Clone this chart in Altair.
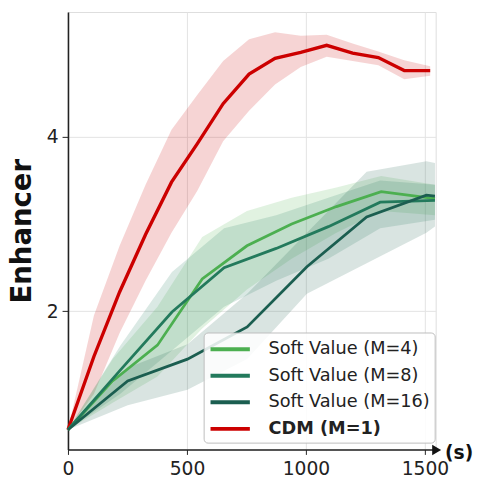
import altair as alt
import pandas as pd

# ---- data ----
series_names = ["Soft Value (M=4)", "Soft Value (M=8)", "Soft Value (M=16)", "CDM (M=1)"]
series_colors = ["#4caf50", "#237a5c", "#1b5e50", "#cc0000"]
band_names = ["CDM (M=1)", "Soft Value (M=4)", "Soft Value (M=8)", "Soft Value (M=16)"]
band_colors = ["#cc0000", "#4caf50", "#237a5c", "#1b5e50"]

cdm_x = [0, 109, 217, 326, 435, 543, 652, 761, 870, 978, 1087, 1196, 1304, 1413, 1522]
cdm_mean = [0.64, 1.48, 2.22, 2.88, 3.48, 3.92, 4.38, 4.72, 4.90, 4.97, 5.05, 4.96, 4.91, 4.76, 4.76]
cdm_lo = [0.64, 1.05, 1.75, 2.35, 2.90, 3.38, 3.95, 4.30, 4.60, 4.80, 4.92, 4.87, 4.82, 4.66, 4.70]
cdm_hi = [0.64, 1.95, 2.75, 3.45, 4.08, 4.48, 4.87, 5.12, 5.20, 5.16, 5.17, 5.07, 4.98, 4.88, 4.81]

sv4_x = [0, 188, 376, 564, 752, 940, 1128, 1316, 1542]
sv4_mean = [0.64, 1.20, 1.61, 2.37, 2.75, 3.00, 3.20, 3.37, 3.29]
sv4_lo = [0.64, 0.95, 1.25, 1.80, 2.25, 2.60, 2.90, 3.15, 3.10]
sv4_hi = [0.64, 1.45, 2.05, 2.85, 3.15, 3.30, 3.42, 3.55, 3.45]

sv8_x = [0, 219, 437, 656, 875, 1094, 1312, 1542]
sv8_mean = [0.64, 1.32, 1.99, 2.50, 2.72, 2.97, 3.25, 3.27]
sv8_lo = [0.64, 1.05, 1.55, 2.05, 2.35, 2.60, 2.95, 3.05]
sv8_hi = [0.64, 1.60, 2.45, 2.95, 3.10, 3.30, 3.50, 3.45]

sv16_x = [0, 251, 502, 753, 1004, 1255, 1506, 1542]
sv16_mean = [0.64, 1.20, 1.45, 1.82, 2.51, 3.08, 3.33, 3.32]
sv16_lo = [0.64, 0.92, 1.10, 1.45, 2.20, 2.55, 2.90, 2.97]
sv16_hi = [0.64, 1.35, 1.62, 2.20, 2.90, 3.60, 3.72, 3.70]

x_ticks = [0, 500, 1000, 1500]
y_ticks = [2, 4]

rows = []
for name, xs, ms, los, his in [
    ("CDM (M=1)", cdm_x, cdm_mean, cdm_lo, cdm_hi),
    ("Soft Value (M=4)", sv4_x, sv4_mean, sv4_lo, sv4_hi),
    ("Soft Value (M=8)", sv8_x, sv8_mean, sv8_lo, sv8_hi),
    ("Soft Value (M=16)", sv16_x, sv16_mean, sv16_lo, sv16_hi),
]:
    for t, m, lo, hi in zip(xs, ms, los, his):
        rows.append({"series": name, "band": name, "t": t, "mean": m, "lo": lo, "hi": hi})
df = pd.DataFrame(rows)

FONT = "DejaVu Sans"
xscale = alt.Scale(domain=[0, 1545], nice=False, zero=False)
yscale = alt.Scale(domain=[0.413, 5.432], nice=False, zero=False)

xaxis = alt.Axis(
    values=x_ticks, format="d", title="(s)", titleX=383, titleY=3, titleAngle=0,
    titleAlign="left", titleBaseline="middle", titleFont=FONT,
    titleFontSize=19, titleFontWeight="bold", titleColor="#111",
    labelFont=FONT, labelFontSize=19, labelColor="#222", labelPadding=5,
    tickSize=5, tickColor="#222", domainColor="#222", domainWidth=1.6,
    gridColor="#e2e2e2", gridWidth=1, labelFlush=False,
)
yaxis = alt.Axis(
    values=y_ticks, format="d", title="Enhancer", titleFont=FONT, titleFontSize=28,
    titleFontWeight="bold", titleColor="#111", titlePadding=10,
    labelFont=FONT, labelFontSize=19, labelColor="#222", labelPadding=4,
    tickSize=6, tickColor="#222", domainColor="#222", domainWidth=1.6,
    gridColor="#e2e2e2", gridWidth=1,
)

base = alt.Chart(df)

bands = base.mark_area(opacity=0.17).encode(
    x=alt.X("t:Q", scale=xscale, axis=xaxis),
    y=alt.Y("lo:Q", scale=yscale, axis=yaxis),
    y2="hi:Q",
    fill=alt.Fill("band:N", scale=alt.Scale(domain=band_names, range=band_colors), legend=None),
)

lines = base.mark_line().encode(
    x=alt.X("t:Q", scale=xscale),
    y=alt.Y("mean:Q", scale=yscale),
    stroke=alt.Stroke(
        "series:N",
        scale=alt.Scale(domain=series_names, range=series_colors),
        legend=alt.Legend(
            title=None, orient="none", legendX=138, legendY=326,
            symbolType="M-1,0H3", symbolSize=400, symbolStrokeWidth=4,
            labelOffset=37, padding=5, rowPadding=6,
            labelFont=FONT, labelFontSize=18, labelColor="#222", labelLimit=400,
            labelFontWeight=alt.ExprRef(expr="datum.label == 'CDM (M=1)' ? 'bold' : 'normal'"),
            fillColor="rgba(255,255,255,0.85)", strokeColor="#bdbdbd", cornerRadius=4,
        ),
    ),
    strokeWidth=alt.condition(alt.datum.series == "CDM (M=1)", alt.value(3.4), alt.value(2.8)),
)

arrow = alt.Chart(pd.DataFrame({"a": [0]})).mark_point(
    shape="triangle-right", filled=True, size=110, color="#111", opacity=1
).encode(x=alt.value(375), y=alt.value(445.5))

chart = alt.layer(bands, lines, arrow).properties(
    width=374, height=445,
    autosize=alt.AutoSizeParams(type="none"),
    padding={"left": 61, "top": 0, "right": 40, "bottom": 31},
).configure_view(stroke=None).configure(background="white")

chart.save("out.html", embed_options={"renderer": "svg", "actions": False})
